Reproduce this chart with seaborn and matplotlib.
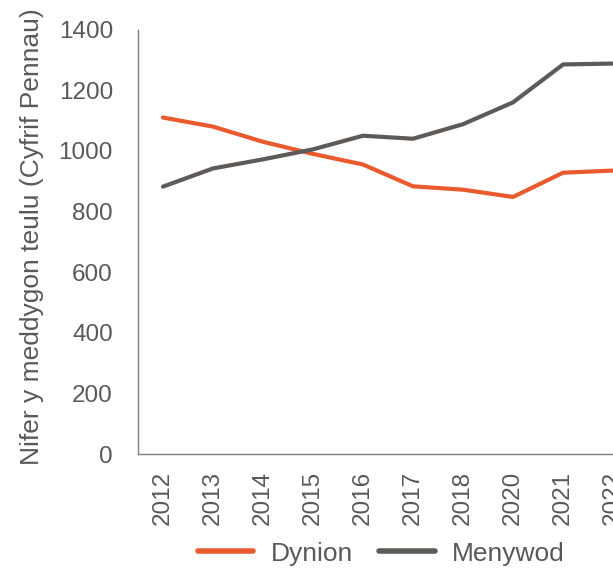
import matplotlib
matplotlib.use("Agg")
import matplotlib.pyplot as plt
import pandas as pd
import seaborn as sns

# values
years = ["2012", "2013", "2014", "2015", "2016", "2017", "2018", "2020", "2021", "2022"]
dynion = [1110, 1080, 1030, 990, 955, 883, 872, 848, 928, 935]
menywod = [882, 942, 972, 1005, 1050, 1040, 1088, 1160, 1285, 1288]
series_names = ["Dynion", "Menywod"]
colours = ["#E95A2E", "#5E5A5A"]
text_grey = "#595959"

df = pd.DataFrame({
    "Blwyddyn": years * 2,
    "Nifer": dynion + menywod,
    "Rhyw": [series_names[0]] * len(years) + [series_names[1]] * len(years),
})

sns.set_style("white")
plt.rcParams["font.family"] = ["Liberation Sans", "DejaVu Sans"]

fig = plt.figure(figsize=(6.13, 5.69), dpi=100)
ax = fig.add_axes([0.225, 0.202, 0.78, 0.746])

sns.lineplot(data=df, x="Blwyddyn", y="Nifer", hue="Rhyw", sort=False,
             palette=colours, linewidth=3.0, ax=ax, legend=False,
             solid_capstyle="round")

ax.set_ylim(0, 1400)
ax.set_yticks(range(0, 1401, 200))
ax.set_xlim(-0.5, 9.06)
ax.set_xticks(range(len(years)))
ax.set_xticklabels(years, rotation=90)
ax.tick_params(axis="both", length=0, labelsize=17.5, colors=text_grey)
ax.tick_params(axis="x", pad=12)
ax.tick_params(axis="y", pad=18)
ax.set_xlabel("")
ax.set_ylabel("Nifer y meddygon teulu (Cyfrif Pennau)", fontsize=19,
              color=text_grey)
ax.yaxis.set_label_coords(-0.197, 0.512)

for side in ["top", "right"]:
    ax.spines[side].set_visible(False)
for side in ["left", "bottom"]:
    ax.spines[side].set_color("#7F7F7F")
    ax.spines[side].set_linewidth(1.0)

handles = [plt.Line2D([], [], color=c, linewidth=4, solid_capstyle="round") for c in colours]
fig.legend(handles, series_names, loc="center", bbox_to_anchor=(0.622, 0.027),
           ncol=2, frameon=False, fontsize=19, handlelength=2.1,
           handletextpad=0.65, columnspacing=1.0, labelcolor=text_grey)

fig.savefig("out.png", dpi=100)
